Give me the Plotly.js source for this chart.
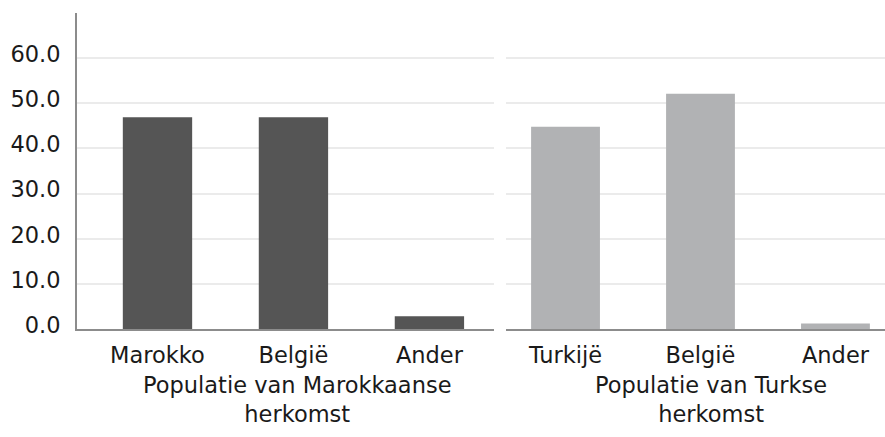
<!DOCTYPE html>
<html>
<head>
<meta charset="utf-8">
<script src="https://cdn.plot.ly/plotly-3.0.1.min.js"></script>
<style>html,body{margin:0;padding:0;background:#fff;}#chart{width:885px;height:437px;}</style>
</head>
<body>
<div id="chart"></div>
<script>
// Data
const catMarokkaans = ["Marokko", "België", "Ander"];
const valMarokkaans = [46.9, 46.9, 2.8];
const catTurks = ["Turkijë", "België", "Ander"];
const valTurks = [44.8, 52.1, 1.2];
const yTickVals = [0, 10, 20, 30, 40, 50, 60];
const yTickText = ["0.0", "10.0", "20.0", "30.0", "40.0", "50.0", "60.0"];
const titleMarokkaans = "Populatie van Marokkaanse<br>herkomst";
const titleTurks = "Populatie van Turkse<br>herkomst";

const W = 885, H = 437;
const FONT = "DejaVu Sans, Verdana, sans-serif";
const FS = 22.5;
const TXT = "#1a1a1a";

const traces = [
  {type: "bar", x: catMarokkaans, y: valMarokkaans, xaxis: "x", yaxis: "y",
   marker: {color: "#555555"}, hoverinfo: "x+y", showlegend: false},
  {type: "bar", x: catTurks, y: valTurks, xaxis: "x2", yaxis: "y2",
   marker: {color: "#b1b2b4"}, hoverinfo: "x+y", showlegend: false}
];

const xCommon = {
  type: "category", showgrid: false, zeroline: false,
  showline: true, linecolor: "#8c8c8c", linewidth: 2,
  ticks: "outside", ticklen: 5, tickcolor: "rgba(0,0,0,0)",
  tickfont: {family: FONT, size: FS, color: TXT}, fixedrange: true
};
const yCommon = {
  range: [0, 70], tickvals: yTickVals, ticktext: yTickText,
  showgrid: true, gridcolor: "#ebebeb", gridwidth: 2, zeroline: false,
  tickfont: {family: FONT, size: FS, color: TXT}, fixedrange: true
};

const layout = {
  width: W, height: H,
  margin: {l: 0, r: 0, t: 13, b: 108, pad: 0},
  paper_bgcolor: "#ffffff", plot_bgcolor: "#ffffff",
  bargap: 0.49,
  font: {family: FONT, size: FS, color: TXT},
  xaxis: Object.assign({}, xCommon, {domain: [77 / W, 494 / W], anchor: "y",
    categoryarray: catMarokkaans, range: [-0.592, 2.475]}),
  yaxis: Object.assign({}, yCommon, {domain: [0, 1], anchor: "x",
    showline: true, linecolor: "#8c8c8c", linewidth: 2,
    ticks: "outside", ticklen: 10, tickcolor: "rgba(0,0,0,0)", showticklabels: true,
    ticklabelshift: -4}),
  xaxis2: Object.assign({}, xCommon, {domain: [506 / W, 1], anchor: "y2",
    categoryarray: catTurks, range: [-0.441, 2.367]}),
  yaxis2: Object.assign({}, yCommon, {domain: [0, 1], anchor: "x2",
    showline: false, showticklabels: false, ticks: ""}),
  annotations: [
    {text: titleMarokkaans, xref: "paper", yref: "paper", x: 297 / W, y: -0.13,
     xanchor: "center", yanchor: "top", showarrow: false, align: "center",
     font: {family: FONT, size: FS, color: TXT}},
    {text: titleTurks, xref: "paper", yref: "paper", x: 711 / W, y: -0.13,
     xanchor: "center", yanchor: "top", showarrow: false, align: "center",
     font: {family: FONT, size: FS, color: TXT}}
  ]
};

Plotly.newPlot("chart", traces, layout, {displayModeBar: false, responsive: false, staticPlot: true});
</script>
</body>
</html>
